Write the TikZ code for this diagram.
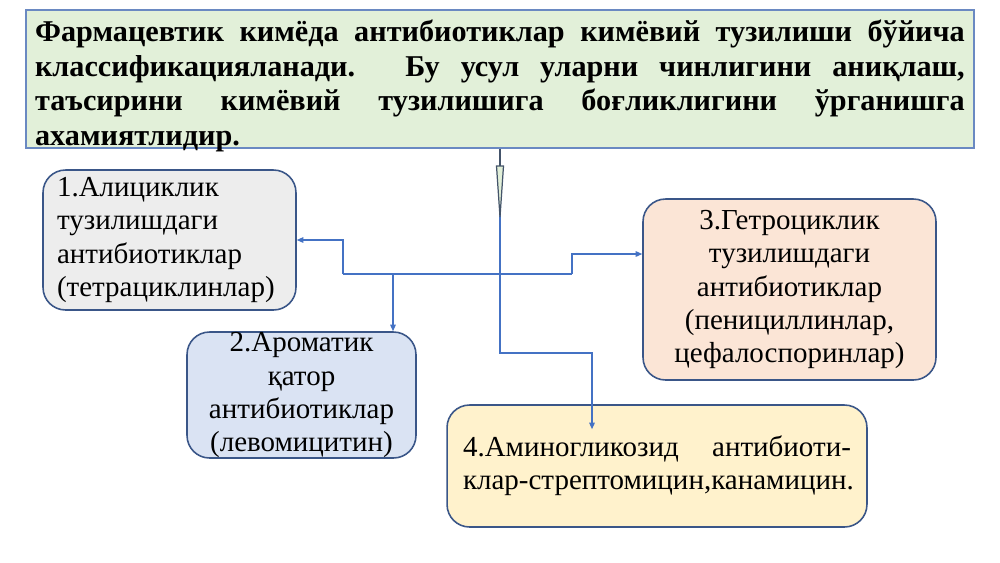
\documentclass[tikz,border=0pt]{standalone}
\usepackage{fontspec}
\setmainfont{Liberation Serif}
\usetikzlibrary{positioning, arrows.meta, calc}
\definecolor{topfill}{HTML}{E2F0D9}
\definecolor{topline}{HTML}{6A89C2}
\definecolor{boxline}{HTML}{3A5688}
\definecolor{alicfill}{HTML}{EDEDED}
\definecolor{aromfill}{HTML}{DAE3F3}
\definecolor{getrofill}{HTML}{FBE5D6}
\definecolor{aminofill}{HTML}{FFF2CC}
\definecolor{linkcolor}{HTML}{4472C4}
\definecolor{tipline}{HTML}{44546A}

\begin{document}
\begin{tikzpicture}[x=0.02cm, y=-0.02cm,
    box/.style={draw=boxline, rectangle, rounded corners=0.45cm, line width=0.9pt, font=\fontsize{16.5}{18.8}\selectfont, inner sep=0pt},
    link/.style={linkcolor, line width=0.7pt},
    arrow/.style={link, -{Triangle[length=1.3mm, width=1.1mm]}}
]
    \useasboundingbox (0,0) rectangle (1000,562);

    % Umumiy matn
    \node[draw=topline, fill=topfill, line width=0.9pt, minimum width=18.96cm, minimum height=2.76cm, inner sep=0pt] (top) at (500,79) {};
    \node[inner sep=0pt, text width=18.6cm, align=justify, font=\fontsize{17.2}{19.6}\selectfont\bfseries] (toptext) at (500,86) {Фармацевтик кимёда антибиотиклар кимёвий тузилиши бўйича\linebreak классификацияланади. Бу усул уларни чинлигини аниқлаш,\linebreak таъсирини кимёвий тузилишига боғликлигини ўрганишга\linebreak ахамиятлидир.};

    % 1. Алициклик
    \node[box, fill=alicfill, minimum width=5.06cm, minimum height=2.8cm, text width=4.5cm, align=left] (alic) at (169.5,240) {1.Алициклик\\ тузилишдаги\\ антибиотиклар\\ (тетрациклинлар)};

    % 2. Ароматик
    \node[box, fill=aromfill, minimum width=4.58cm, minimum height=2.52cm, align=center] (arom) at (301.5,395) {2.Ароматик\\ қатор\\ антибиотиклар\\ (левомицитин)};

    % 3. Гетроциклик
    \node[box, fill=getrofill, minimum width=5.86cm, minimum height=3.62cm, align=center] (getro) at (789.5,289.5) {3.Гетроциклик\\ тузилишдаги\\ антибиотиклар\\ (пенициллинлар,\\ цефалоспоринлар)};

    % 4. Аминогликозид
    \node[box, fill=aminofill, minimum width=8.4cm, minimum height=2.44cm, text width=7.76cm, align=justify] (amino) at (657,466) {4.Аминогликозид антибиоти-\linebreak клар-стрептомицин,канамицин.};

    % Tarmoqlar
    \coordinate (split) at (500,353);
    \coordinate (hl) at (343,274);
    \coordinate (hm) at (393,274);
    \coordinate (hr) at (572,274);
    \draw[arrow] (top.south) -- (split) -| ([xshift=-1.3cm, yshift=-0.5cm]amino.north);
    \draw[link] (hl) -- (hr);
    \draw[arrow] (hl) |- (alic.east);
    \draw[arrow] (hm) -- (hm |- arom.north);
    \draw[arrow] (hr) |- ([yshift=0.71cm]getro.west);

    % Uchburchak
    \coordinate (tri) at (500,166);
    \draw[tipline, line width=0.9pt] (top.south) -- (tri);
    \draw[tipline, fill=topfill, line width=0.7pt] ([xshift=-0.07cm]tri) -- ([xshift=0.07cm]tri) -- ([yshift=-1.02cm]tri) -- cycle;
\end{tikzpicture}
\end{document}
